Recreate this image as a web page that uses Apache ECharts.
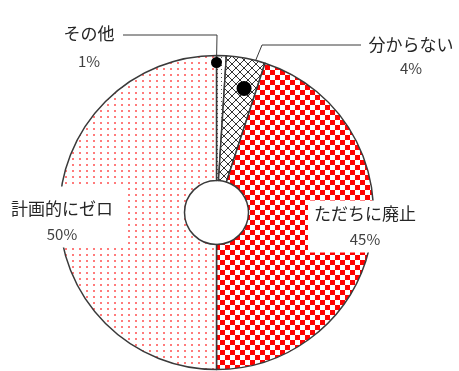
<!DOCTYPE html>
<html>
<head>
<meta charset="utf-8">
<script src="https://cdn.jsdelivr.net/npm/echarts@6/dist/echarts.min.js"></script>
<style>
  html, body { margin: 0; padding: 0; background: #ffffff; }
  #chart { width: 459px; height: 371px; }
</style>
</head>
<body>
<div id="chart"></div>
<script>
// Survey answers, in clockwise order from 12 o'clock
const categories = ['その他', '分からない', 'ただちに廃止', '計画的にゼロ'];
const shares = [1, 4, 45, 50];

// Ring geometry (px)
const CX = 216.5, CY = 212.5, R_IN = 32, R_OUT = 157;
const FONT = '"Noto Sans CJK JP", "Noto Sans", sans-serif';

function tile(w, h, draw) {
  const c = document.createElement('canvas');
  c.width = w; c.height = h;
  const g = c.getContext('2d');
  g.fillStyle = '#ffffff';
  g.fillRect(0, 0, w, h);
  draw(g);
  return { image: c, repeat: 'repeat' };
}

// Fill patterns for each answer
const fills = [
  // sparse dark dots
  tile(4, 4, g => { g.fillStyle = '#555'; g.fillRect(1, 1, 1, 1); }),
  // diagonal cross hatch
  tile(8, 8, g => {
    g.strokeStyle = '#333'; g.lineWidth = 1;
    g.beginPath();
    g.moveTo(0, 0); g.lineTo(8, 8);
    g.moveTo(8, 0); g.lineTo(0, 8);
    g.moveTo(-4, 4); g.lineTo(4, 12);
    g.moveTo(4, -4); g.lineTo(12, 4);
    g.stroke();
  }),
  // red / white checkerboard
  tile(10, 10, g => {
    g.fillStyle = '#ff0000';
    g.fillRect(0, 0, 5, 5);
    g.fillRect(5, 5, 5, 5);
  }),
  // light red dots
  tile(7, 6, g => {
    g.fillStyle = '#ff7b7b';
    g.fillRect(2, 2, 2, 2);
  })
];

// Point on the ring: angle measured clockwise from 12 o'clock
function polar(deg, r) {
  const a = deg * Math.PI / 180;
  return [CX + r * Math.sin(a), CY - r * Math.cos(a)];
}
const total = shares.reduce((s, v) => s + v, 0);
const startDeg = [];
shares.reduce((acc, v, i) => { startDeg[i] = acc / total * 360; return acc + v; }, 0);
const sweepDeg = shares.map(v => v / total * 360);

// Leader anchors for the two narrow slices
const anchor0 = polar(startDeg[0] + sweepDeg[0] * 0.0, 150);
const anchor1 = polar(startDeg[1] + sweepDeg[1] * 0.62, 127);

const labelPlacement = [
  { x: 89, y: 47.5, line: [anchor0, [anchor0[0] + 0.5, 35], [123, 35]] },
  { x: 411, y: 56.5, line: [anchor1, [262, 45], [361, 45]] },
  { x: 365, y: 226.5 },
  { x: 62, y: 217 }
];

const labelStyles = [
  { gapName: 27, gapPct: 27, bg: null, pad: 0 },
  { gapName: 23, gapPct: 23, bg: null, pad: 0 },
  { gapName: 26, gapPct: 26, bg: '#ffffff', pad: [0, 6, 0, 6] },
  { gapName: 26, gapPct: 26, bg: '#ffffff', pad: [9, 12, 0, 12] }
];

const data = categories.map((name, i) => ({
  name: name,
  value: shares[i],
  itemStyle: { color: fills[i] },
  label: {
    backgroundColor: labelStyles[i].bg || 'transparent',
    padding: labelStyles[i].pad,
    rich: {
      n: { fontSize: 17, color: '#262626', fontFamily: FONT, lineHeight: labelStyles[i].gapName, align: 'center' },
      p: { fontSize: 15, color: '#404040', fontFamily: FONT, lineHeight: labelStyles[i].gapPct, align: 'center' }
    }
  },
  labelLine: { show: i < 2 }
}));

const chart = echarts.init(document.getElementById('chart'), null, { renderer: 'canvas' });
chart.setOption({
  backgroundColor: '#ffffff',
  animation: false,
  series: [{
    type: 'pie',
    center: [CX, CY],
    radius: [R_IN, R_OUT],
    startAngle: 90,
    clockwise: true,
    avoidLabelOverlap: false,
    silent: true,
    itemStyle: { borderColor: '#3a3a3a', borderWidth: 1.5 },
    label: {
      show: true,
      formatter: '{n|{b}}\n{p|{c}%}'
    },
    labelLine: { show: true, lineStyle: { color: '#3a3a3a', width: 1 } },
    labelLayout: function (params) {
      const p = labelPlacement[params.dataIndex];
      const out = { x: p.x, y: p.y, align: 'center', verticalAlign: 'middle' };
      if (p.line) out.labelLinePoints = p.line;
      return out;
    },
    data: data
  }],
  graphic: [
    { type: 'circle', shape: { cx: anchor0[0], cy: anchor0[1], r: 5.5 }, style: { fill: '#000' }, z: 100 },
    { type: 'circle', shape: { cx: anchor1[0], cy: anchor1[1], r: 7.5 }, style: { fill: '#000' }, z: 100 }
  ]
});
</script>
</body>
</html>
